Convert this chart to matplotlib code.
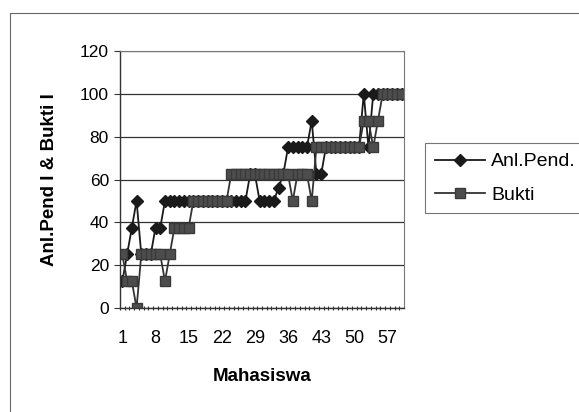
import matplotlib.pyplot as plt
from matplotlib.patches import Rectangle

plt.rcParams['font.family'] = ['Liberation Sans', 'DejaVu Sans']

# Scores per student (1..60)
mahasiswa = list(range(1, 61))
anl_pend = [12.5, 25, 37.5, 50, 25, 25, 25, 37.5, 37.5, 50,
            50, 50, 50, 50, 50, 50, 50, 50, 50, 50,
            50, 50, 50, 50, 50, 50, 50, 62.5, 62.5, 50,
            50, 50, 50, 56.25, 62.5, 75, 75, 75, 75, 75,
            87.5, 62.5, 62.5, 75, 75, 75, 75, 75, 75, 75,
            75, 100, 75, 100, 100, 100, 100, 100, 100, 100]
bukti = [25, 12.5, 12.5, 0, 25, 25, 25, 25, 25, 12.5,
         25, 37.5, 37.5, 37.5, 37.5, 50, 50, 50, 50, 50,
         50, 50, 50, 62.5, 62.5, 62.5, 62.5, 62.5, 62.5, 62.5,
         62.5, 62.5, 62.5, 62.5, 62.5, 62.5, 50, 62.5, 62.5, 62.5,
         50, 75, 75, 75, 75, 75, 75, 75, 75, 75,
         75, 87.5, 87.5, 75, 87.5, 100, 100, 100, 100, 100]
x_labels = [1, 8, 15, 22, 29, 36, 43, 50, 57]
y_ticks = [0, 20, 40, 60, 80, 100, 120]

fig = plt.figure(figsize=(5.79, 4.12), dpi=100)
fig.patch.set_facecolor('white')

# outer chart frame (runs off the right and bottom edges)
fig.patches.append(Rectangle((10 / 579, -0.05), 1.2, 1 - 13 / 412 + 0.05,
                             transform=fig.transFigure, fill=False,
                             edgecolor='#666666', linewidth=0.8))

ax = fig.add_axes([120 / 579, 1 - 308 / 412, 284 / 579, 257 / 412])

ax.plot(mahasiswa, anl_pend, color='#1a1a1a', linewidth=1.3,
        marker='D', markersize=6.5, markerfacecolor='#1a1a1a',
        markeredgecolor='#1a1a1a', label='Anl.Pend.')
ax.plot(mahasiswa, bukti, color='#333333', linewidth=1.3,
        marker='s', markersize=7.5, markerfacecolor='#4d4d4d',
        markeredgecolor='#3a3a3a', label='Bukti')

ax.set_xlim(0.5, 60.5)
ax.set_ylim(0, 120)
ax.set_yticks(y_ticks)
ax.yaxis.grid(True, color='#333333', linewidth=0.9)
ax.set_axisbelow(True)

ax.set_xticks(x_labels)
ax.set_xticklabels([str(v) for v in x_labels])
ax.set_xticks([m + 0.5 for m in range(0, 60)], minor=True)
ax.tick_params(axis='x', which='major', length=0, labelsize=13, pad=16)
ax.tick_params(axis='x', which='minor', length=3, direction='inout',
               color='#333333', width=0.8)
ax.tick_params(axis='y', length=4, direction='out', labelsize=12.5,
               color='#333333', pad=4)

for side in ['left', 'bottom']:
    ax.spines[side].set_color('#333333')
    ax.spines[side].set_linewidth(1.0)
for side in ['top', 'right']:
    ax.spines[side].set_color('#777777')
    ax.spines[side].set_linewidth(0.8)

ax.set_xlabel('Mahasiswa', fontsize=13.5, fontweight='bold', labelpad=15)
ax.set_ylabel('Anl.Pend I & Bukti I', fontsize=13.5, fontweight='bold',
              labelpad=16)

leg = fig.legend(loc='upper left', bbox_to_anchor=(425 / 579, 1 - 143 / 412),
                 frameon=True, fancybox=False, fontsize=14,
                 handlelength=2.6, borderpad=0.5, labelspacing=0.8,
                 handletextpad=0.3, borderaxespad=0)
leg.get_frame().set_edgecolor('#555555')
leg.get_frame().set_linewidth(0.8)

fig.savefig('out.png', dpi=100)
